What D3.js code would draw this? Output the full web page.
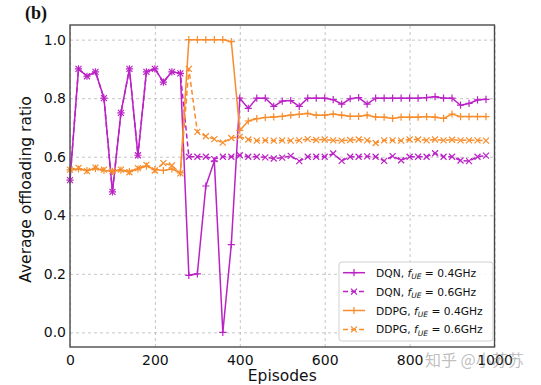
<!DOCTYPE html>
<html>
<head>
<meta charset="utf-8">
<script src="https://cdn.jsdelivr.net/npm/d3@7"></script>
<style>
  body { margin: 0; background: #fff; }
  svg { display: block; font-family: "DejaVu Sans", sans-serif; }
</style>
</head>
<body>
<div id="chart"></div>
<script>
const episodes = [0, 20, 40, 60, 80, 100, 120, 140, 160, 180,
  200, 220, 240, 260, 280, 300, 320, 340, 360, 380,
  400, 420, 440, 460, 480, 500, 520, 540, 560, 580,
  600, 620, 640, 660, 680, 700, 720, 740, 760, 780,
  800, 820, 840, 860, 880, 900, 920, 940, 960, 980];

const dqn04 = [0.52, 0.90, 0.875, 0.89, 0.80, 0.48, 0.75, 0.90, 0.605, 0.89,
  0.90, 0.855, 0.89, 0.885, 0.195, 0.20, 0.50, 0.585, 0.0, 0.30,
  0.80, 0.765, 0.80, 0.80, 0.772, 0.79, 0.792, 0.772, 0.80, 0.80,
  0.80, 0.795, 0.78, 0.798, 0.802, 0.78, 0.80, 0.80, 0.80, 0.80,
  0.80, 0.80, 0.802, 0.805, 0.80, 0.80, 0.776, 0.782, 0.794, 0.796];

const dqn06 = [0.52, 0.90, 0.875, 0.89, 0.80, 0.48, 0.75, 0.90, 0.605, 0.89,
  0.90, 0.855, 0.89, 0.885, 0.60, 0.60, 0.60, 0.592, 0.60, 0.60,
  0.605, 0.60, 0.60, 0.598, 0.594, 0.597, 0.603, 0.585, 0.60, 0.60,
  0.60, 0.611, 0.586, 0.60, 0.60, 0.601, 0.60, 0.586, 0.602, 0.588,
  0.60, 0.60, 0.60, 0.612, 0.60, 0.60, 0.587, 0.585, 0.60, 0.604];

const ddpg04 = [0.555, 0.558, 0.553, 0.56, 0.553, 0.55, 0.554, 0.549, 0.558, 0.568,
  0.556, 0.553, 0.558, 0.545, 1.0, 1.0, 1.0, 1.0, 1.0, 0.993,
  0.69, 0.722, 0.73, 0.734, 0.736, 0.738, 0.742, 0.745, 0.748, 0.742,
  0.742, 0.746, 0.742, 0.738, 0.738, 0.742, 0.736, 0.735, 0.731, 0.735,
  0.735, 0.735, 0.737, 0.735, 0.731, 0.746, 0.737, 0.737, 0.737, 0.737];

const ddpg06 = [0.556, 0.562, 0.551, 0.563, 0.556, 0.551, 0.556, 0.547, 0.561, 0.572,
  0.553, 0.578, 0.57, 0.543, 0.90, 0.685, 0.67, 0.66, 0.648, 0.664,
  0.668, 0.659, 0.655, 0.656, 0.655, 0.656, 0.655, 0.656, 0.66, 0.657,
  0.659, 0.656, 0.655, 0.657, 0.659, 0.656, 0.647, 0.656, 0.656, 0.655,
  0.659, 0.659, 0.656, 0.659, 0.656, 0.658, 0.656, 0.656, 0.656, 0.655];

const xTicks = [0, 200, 400, 600, 800, 1000];
const yTicks = [0.0, 0.2, 0.4, 0.6, 0.8, 1.0];

const seriesNames = ['DQN', 'DQN', 'DDPG', 'DDPG'];
const seriesFreqs = ['0.4GHz', '0.6GHz', '0.4GHz', '0.6GHz'];

const magenta = '#bb22c6', orange = '#f78d2c';
const series = [
  { values: dqn04, color: magenta, marker: 'plus', dash: null },
  { values: dqn06, color: magenta, marker: 'cross', dash: '5,3' },
  { values: ddpg04, color: orange, marker: 'plus', dash: null },
  { values: ddpg06, color: orange, marker: 'cross', dash: '5,3' }
];

const width = 541, height = 385;
const plotLeft = 70, plotRight = 494.5, plotTop = 25, plotBottom = 347;

const svg = d3.select('#chart').append('svg')
  .attr('width', width)
  .attr('height', height);

const x = d3.scaleLinear().domain([0, 1000]).range([plotLeft, plotRight]);
const y = d3.scaleLinear().domain([-0.05, 1.05]).range([plotBottom, plotTop]);

// grid
svg.append('g')
  .attr('transform', `translate(0,${plotBottom})`)
  .call(d3.axisBottom(x).tickValues(xTicks).tickSize(-(plotBottom - plotTop)).tickFormat(''))
  .call(g => g.select('.domain').remove())
  .call(g => g.selectAll('line').attr('stroke', '#b8b8b8').attr('stroke-dasharray', '3,3').attr('stroke-width', 0.8));

svg.append('g')
  .attr('transform', `translate(${plotLeft},0)`)
  .call(d3.axisLeft(y).tickValues(yTicks).tickSize(-(plotRight - plotLeft)).tickFormat(''))
  .call(g => g.select('.domain').remove())
  .call(g => g.selectAll('line').attr('stroke', '#b8b8b8').attr('stroke-dasharray', '3,3').attr('stroke-width', 0.8));

// tick labels
svg.append('g')
  .attr('transform', `translate(0,${plotBottom})`)
  .call(d3.axisBottom(x).tickValues(xTicks).tickSize(0).tickPadding(8).tickFormat(d3.format('d')))
  .call(g => g.select('.domain').remove())
  .call(g => g.selectAll('text').attr('font-size', 14).attr('fill', '#111')
    .attr('font-family', '"DejaVu Sans", sans-serif'));

svg.append('g')
  .attr('transform', `translate(${plotLeft},0)`)
  .call(d3.axisLeft(y).tickValues(yTicks).tickSize(0).tickPadding(4).tickFormat(d3.format('.1f')))
  .call(g => g.select('.domain').remove())
  .call(g => g.selectAll('text').attr('font-size', 14).attr('fill', '#111')
    .attr('font-family', '"DejaVu Sans", sans-serif'));

// series
const markerPath = {
  plus: 'M-3.6,0H3.6M0,-3.6V3.6',
  cross: 'M-3,-3L3,3M-3,3L3,-3'
};

const line = d3.line()
  .x((d, i) => x(episodes[i]))
  .y(d => y(d));

series.forEach(s => {
  svg.append('path')
    .attr('d', line(s.values))
    .attr('fill', 'none')
    .attr('stroke', s.color)
    .attr('stroke-width', 1.5)
    .attr('stroke-dasharray', s.dash);

  svg.append('g').selectAll('path')
    .data(s.values)
    .enter().append('path')
    .attr('transform', (d, i) => `translate(${x(episodes[i])},${y(d)})`)
    .attr('d', markerPath[s.marker])
    .attr('fill', 'none')
    .attr('stroke', s.color)
    .attr('stroke-width', 1.2);
});

// frame
svg.append('rect')
  .attr('x', plotLeft).attr('y', plotTop)
  .attr('width', plotRight - plotLeft).attr('height', plotBottom - plotTop)
  .attr('fill', 'none')
  .attr('stroke', '#4a4a4a')
  .attr('stroke-width', 1.4);

// legend
const legend = svg.append('g').attr('transform', 'translate(339,262)');
legend.append('rect')
  .attr('width', 154).attr('height', 79)
  .attr('rx', 3)
  .attr('fill', '#fff').attr('fill-opacity', 0.85)
  .attr('stroke', '#d0d0d0');

series.forEach((s, i) => {
  const row = legend.append('g').attr('transform', `translate(0,${10.7 + i * 18.9})`);
  row.append('line')
    .attr('x1', 4).attr('x2', 26)
    .attr('stroke', s.color).attr('stroke-width', 1.5)
    .attr('stroke-dasharray', s.dash);
  row.append('path')
    .attr('transform', 'translate(15,0)')
    .attr('d', markerPath[s.marker])
    .attr('fill', 'none').attr('stroke', s.color).attr('stroke-width', 1.2);
  const t = row.append('text')
    .attr('x', 37).attr('y', 4)
    .attr('font-size', 10.7).attr('fill', '#111');
  t.append('tspan').text(seriesNames[i] + ', ');
  t.append('tspan').attr('font-style', 'italic').text('f');
  t.append('tspan').attr('font-style', 'italic').attr('font-size', 7.5).attr('dy', 2.5).text('UE');
  t.append('tspan').attr('dy', -2.5).text(' = ' + seriesFreqs[i]);
});

// axis titles
svg.append('text')
  .attr('x', (plotLeft + plotRight) / 2).attr('y', 381)
  .attr('text-anchor', 'middle')
  .attr('font-size', 15.5).attr('fill', '#111')
  .text('Episodes');

svg.append('text')
  .attr('transform', 'translate(31,189.5) rotate(-90)')
  .attr('text-anchor', 'middle')
  .attr('font-size', 15.5).attr('fill', '#111')
  .text('Average offloading ratio');

svg.append('text')
  .attr('x', 25).attr('y', 19)
  .attr('font-family', '"Liberation Serif", serif')
  .attr('font-weight', 'bold')
  .attr('font-size', 18).attr('fill', '#111')
  .text('(b)');

// watermark
svg.append('text')
  .attr('x', 425).attr('y', 366)
  .attr('font-family', '"Noto Sans CJK SC", sans-serif')
  .attr('font-size', 16).attr('fill', '#888').attr('fill-opacity', 0.55)
  .text('知乎 @小苏苏');
</script>
</body>
</html>
